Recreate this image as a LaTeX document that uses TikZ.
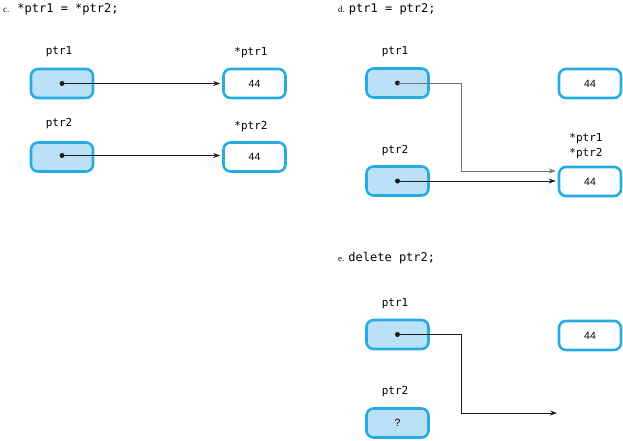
\documentclass[tikz,border=0pt]{standalone}
\usepackage{fontspec}
\newfontfamily\code{DejaVu Sans Mono}
\newfontfamily\numf{Liberation Sans}
\newfontfamily\ser{Liberation Serif}
\usetikzlibrary{arrows.meta,calc}
\definecolor{boxborder}{RGB}{38,172,228}
\definecolor{boxfill}{RGB}{186,225,247}
\definecolor{arrowc}{RGB}{30,30,30}
\tikzset{
  ptrbox/.style={draw=boxborder, line width=2.6pt, fill=boxfill, rounded corners=7pt,
    minimum width=62pt, minimum height=29pt, inner sep=0pt, font=\numf\fontsize{10.5}{12}\selectfont},
  valbox/.style={ptrbox, fill=white},
  lbl/.style={font=\code\fontsize{11}{13}\selectfont, inner sep=0pt},
  ttl/.style={anchor=base west, inner sep=0pt, font=\code\fontsize{12}{14}\selectfont},
  dotn/.style={circle, fill=arrowc, inner sep=0pt, minimum size=5pt},
  link/.style={draw=arrowc, line width=0.6pt, -{Stealth[length=7pt,width=5pt]}, shorten >=2pt},
  glink/.style={link, draw=black!55}
}
\newcommand{\tlet}[1]{{\ser\fontsize{9}{10}\selectfont #1}}
\begin{document}
\begin{tikzpicture}[x=1pt,y=-1pt]
\useasboundingbox (0,0) rectangle (623,440);
% ---------- panel c
\node[ttl] (ct) at (3,12) {\tlet{c.}\hspace{8pt}*ptr1 = *ptr2;};
\node[lbl] (cl1) at (59,52) {ptr1};
\node[lbl] (cl2) at (251,53) {*ptr1};
\node[ptrbox] (c1) at (62,83.5) {};
\node[valbox] (c3) at (254.5,83.5) {44};
\node[lbl] (cl3) at (59,124) {ptr2};
\node[lbl] (cl4) at (251,127) {*ptr2};
\node[ptrbox] (c2) at (62,157) {};
\node[valbox] (c4) at (254.5,157) {44};
\node[dotn] (c1d) at (c1.center) {};
\node[dotn] (c2d) at ([yshift=1.5pt]c2.center) {};
\draw[link] (c1d.center) -- (c1d.center -| c3.west);
\draw[link] (c2d.center) -- (c2d.center -| c4.west);
% ---------- panel d
\node[ttl] (dt) at (338,12) {\tlet{d.}\hspace{4pt}ptr1 = ptr2;};
\node[lbl] (dl1) at (395,52) {ptr1};
\node[ptrbox] (d1) at (397.5,83) {};
\node[valbox] (d3) at (590,83.5) {44};
\node[lbl] (dl2) at (395,151) {ptr2};
\node[ptrbox] (d2) at (397.5,181) {};
\node[lbl] (dl3) at (586,139) {*ptr1};
\node[lbl] (dl4) at (586,154) {*ptr2};
\node[valbox] (d4) at (590,181.5) {44};
\node[dotn] (d1d) at (d1.center) {};
\node[dotn] (d2d) at (d2.center) {};
\coordinate (dturn) at (461,171);
\draw[glink] (d1d.center) -| (dturn) -- (dturn -| d4.west);
\draw[link] (d2d.center) -- (d2d.center -| d4.west);
% ---------- panel e
\node[ttl] (et) at (338,261) {\tlet{e.}\hspace{4pt}delete ptr2;};
\node[lbl] (el1) at (395,304) {ptr1};
\node[ptrbox] (e1) at (397.5,334.5) {};
\node[valbox] (e3) at (590,335.5) {44};
\node[lbl] (el2) at (395,392) {ptr2};
\node[ptrbox] (e2) at (397.5,423) {?};
\node[dotn] (e1d) at (e1.center) {};
\coordinate (eturn) at (461,413);
\coordinate (eend) at (559,413);
\draw[link] (e1d.center) -| (eturn) -- (eend);
\end{tikzpicture}
\end{document}
